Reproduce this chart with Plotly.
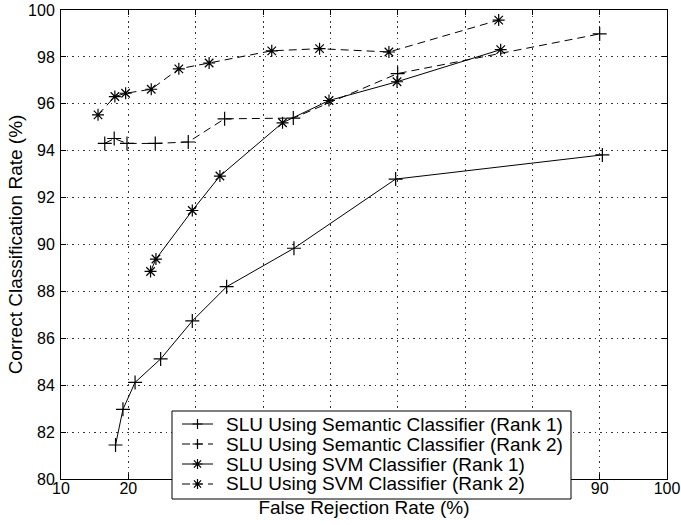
import plotly.graph_objects as go

# Data
sem_r1_x = [18.1, 19.2, 21.0, 24.8, 29.5, 34.6, 44.6, 59.7, 90.4]
sem_r1_y = [81.45, 82.97, 84.12, 85.12, 86.74, 88.2, 89.84, 92.79, 93.82]

sem_r2_x = [16.5, 17.9, 19.8, 24.0, 28.9, 34.3, 44.5, 60.0, 90.0]
sem_r2_y = [94.31, 94.52, 94.31, 94.31, 94.37, 95.36, 95.39, 97.29, 98.98]

svm_r1_x = [23.3, 24.1, 29.5, 33.6, 42.9, 49.8, 59.9, 75.3]
svm_r1_y = [88.85, 89.38, 91.45, 92.92, 95.19, 96.14, 96.94, 98.31]

svm_r2_x = [15.5, 18.0, 19.6, 23.4, 27.5, 32.0, 41.3, 48.4, 58.7, 75.0]
svm_r2_y = [95.53, 96.31, 96.45, 96.62, 97.49, 97.74, 98.26, 98.35, 98.21, 99.57]

names = [
    "SLU Using Semantic Classifier (Rank 1)",
    "SLU Using Semantic Classifier (Rank 2)",
    "SLU Using SVM Classifier (Rank 1)",
    "SLU Using SVM Classifier (Rank 2)",
]

x_ticks = [10, 20, 30, 40, 50, 60, 70, 80, 90, 100]
x_ticklabels = ["10", "20", "", "", "", "", "", "", "90", "100"]  # 30-80 hidden under legend
y_ticks = [80, 82, 84, 86, 88, 90, 92, 94, 96, 98, 100]

FONT = "Liberation Sans, Arial, sans-serif"
DASH = "8px,5px"

# figure / plot-area geometry (pixels)
W, H = 681, 525
ML, MR, MT, MB = 61, 14, 10, 46
PW, PH = W - ML - MR, H - MT - MB


def px_to_paper(px, py):
    return (px - ML) / PW, (H - MB - py) / PH


fig = go.Figure()
series = [
    (sem_r1_x, sem_r1_y, names[0], "solid", "cross-thin"),
    (sem_r2_x, sem_r2_y, names[1], DASH, "cross-thin"),
    (svm_r1_x, svm_r1_y, names[2], "solid", "asterisk-open"),
    (svm_r2_x, svm_r2_y, names[3], DASH, "asterisk-open"),
]
for x, y, n, d, m in series:
    fig.add_trace(go.Scatter(
        x=x, y=y, name=n, mode="lines+markers", showlegend=False,
        line=dict(color="black", width=1, dash=d),
        marker=dict(symbol=m, size=10, color="black",
                    line=dict(color="black", width=1.2)),
    ))

axis_common = dict(
    showline=True, linecolor="black", linewidth=1, mirror="ticks",
    ticks="inside", ticklen=5, tickcolor="black",
    showgrid=True, gridcolor="#333", griddash="1.5px,4px", gridwidth=1,
    zeroline=False, ticklabeloverflow="allow",
    tickfont=dict(family=FONT, size=16, color="black"),
    title_font=dict(family=FONT, size=19, color="black"),
)

fig.update_xaxes(range=[10, 100], tickvals=x_ticks, ticktext=x_ticklabels,
                 ticklabelstandoff=-5,
                 title_text="False Rejection Rate (%)", title_standoff=4,
                 **axis_common)
fig.update_yaxes(range=[80, 100], tickvals=y_ticks, ticklabelstandoff=2,
                 title_text="Correct Classification Rate (%)", title_standoff=0,
                 **axis_common)

# ---- hand-built legend box (matches reference's compact layout) ----
shapes = []
annotations = []
bx0, by0 = px_to_paper(172, 499)
bx1, by1 = px_to_paper(571, 411)
shapes.append(dict(type="rect", xref="paper", yref="paper",
                   x0=bx0, y0=by0, x1=bx1, y1=by1, layer="above",
                   fillcolor="white", line=dict(color="black", width=1)))

row_y = [424, 444, 464, 484]
styles = [("solid", "plus"), (DASH, "plus"), ("solid", "star"), (DASH, "star")]
plus_path = "M-5,0H5M0,-5V5"
star_path = "M-5,0H5M0,-5V5M-3.6,-3.6L3.6,3.6M-3.6,3.6L3.6,-3.6"
for name, ry, (dsh, mk) in zip(names, row_y, styles):
    lx0, ly = px_to_paper(182, ry)
    lx1, _ = px_to_paper(213, ry)
    mx, _ = px_to_paper(197.5, ry)
    tx, _ = px_to_paper(224, ry)
    shapes.append(dict(type="line", xref="paper", yref="paper",
                       x0=lx0, x1=lx1, y0=ly, y1=ly, layer="above",
                       line=dict(color="black", width=1, dash=dsh)))
    shapes.append(dict(type="path", xref="paper", yref="paper",
                       xsizemode="pixel", ysizemode="pixel",
                       xanchor=mx, yanchor=ly, layer="above",
                       path=plus_path if mk == "plus" else star_path,
                       line=dict(color="black", width=1.2)))
    annotations.append(dict(xref="paper", yref="paper", x=tx, y=ly,
                            xanchor="left", yanchor="middle", showarrow=False,
                            text=name,
                            font=dict(family=FONT, size=19, color="black")))

fig.update_layout(
    width=W, height=H,
    margin=dict(l=ML, r=MR, t=MT, b=MB, autoexpand=False),
    paper_bgcolor="white", plot_bgcolor="white",
    showlegend=False,
    shapes=shapes, annotations=annotations,
    font=dict(family=FONT, color="black"),
)

fig.write_html("out.html",
               config={"displayModeBar": False},
               post_script="document.body.style.margin='0';"
                           "document.body.style.overflow='hidden';")
